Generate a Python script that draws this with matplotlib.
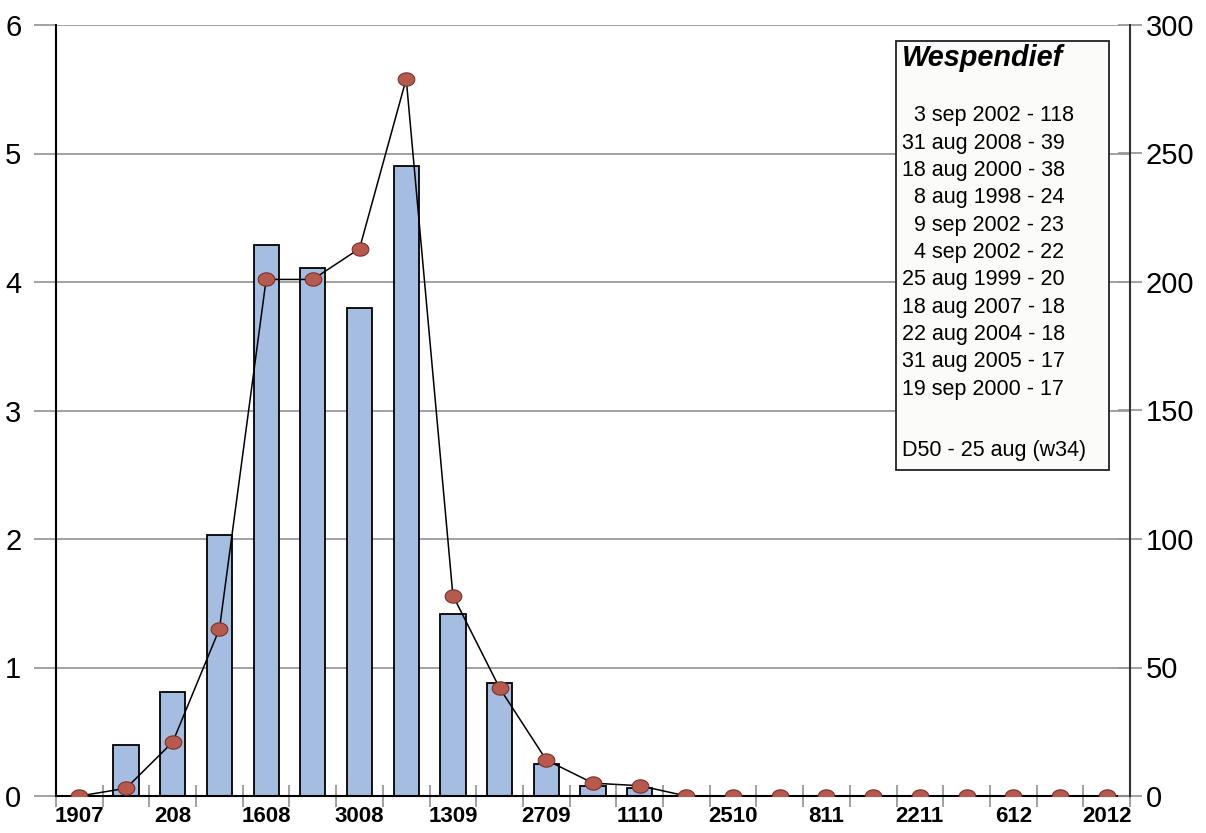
import numpy as np
import matplotlib
matplotlib.use("Agg")
import matplotlib.pyplot as plt
from matplotlib.patches import Rectangle
from matplotlib.path import Path

plt.rcParams['font.family'] = ['Liberation Sans', 'DejaVu Sans']

weeks = ["1907", "2607", "208", "908", "1608", "2308", "3008", "609", "1309", "2009",
         "2709", "410", "1110", "1810", "2510", "111", "811", "1511", "2211", "2911",
         "612", "1312", "2012"]
bar_values = [0.0, 0.40, 0.81, 2.03, 4.29, 4.11, 3.80, 4.90, 1.42, 0.88,
              0.25, 0.08, 0.06, 0.0, 0.0, 0.0, 0.0, 0.0, 0.0, 0.0,
              0.0, 0.0, 0.0]
line_values = [0, 3, 21, 65, 201, 201, 213, 279, 78, 42,
               14, 5, 4, 0, 0, 0, 0, 0, 0, 0,
               0, 0, 0]
left_ticks = [0, 1, 2, 3, 4, 5, 6]
right_ticks = [0, 50, 100, 150, 200, 250, 300]

legend_title = "Wespendief"
legend_lines = ["  3 sep 2002 - 118", "31 aug 2008 - 39", "18 aug 2000 - 38",
                "  8 aug 1998 - 24", "  9 sep 2002 - 23", "  4 sep 2002 - 22",
                "25 aug 1999 - 20", "18 aug 2007 - 18", "22 aug 2004 - 18",
                "31 aug 2005 - 17", "19 sep 2000 - 17"]
legend_footer = "D50 - 25 aug (w34)"

W, H = 1206, 833
fig = plt.figure(figsize=(W / 100, H / 100), dpi=100)
fig.patch.set_facecolor('white')

ax = fig.add_axes([56 / W, 1 - 796 / H, (1130 - 56) / W, (796 - 25) / H])
x = np.arange(len(weeks))

ax.bar(x, bar_values, width=0.54, color='#a6bde2', edgecolor='black', linewidth=1.3, zorder=2)
ax.set_xlim(-0.5, len(weeks) - 0.5)
ax.set_ylim(0, 6)
ax.set_yticks(left_ticks)
ax.set_axisbelow(True)
ax.yaxis.grid(True, color='#9a9a9a', linewidth=1.3)
ax.tick_params(axis='y', direction='out', length=16, width=1.3, color='#9a9a9a',
               labelsize=21, pad=9)

ax.set_xticks(np.arange(-0.5, len(weeks), 1))
ax.set_xticklabels([])
ax.tick_params(axis='x', which='major', direction='inout', length=16, width=1.3, color='#9a9a9a')
ax.set_xticks(x[::2], minor=True)
ax.set_xticklabels(weeks[::2], minor=True, fontweight='bold', fontsize=16)
ax.tick_params(axis='x', which='minor', length=0, pad=7)

ax.spines['top'].set_visible(False)
ax.spines['left'].set_linewidth(1.5)
ax.spines['bottom'].set_linewidth(1.5)
ax.spines['right'].set_visible(False)

ax2 = ax.twinx()
ax2.set_ylim(0, 300)
ax2.set_yticks(right_ticks)
ax2.tick_params(axis='y', direction='inout', length=17, width=1.3, color='#9a9a9a',
                labelsize=21, pad=3)
ax2.spines['top'].set_visible(False)
ax2.spines['left'].set_visible(False)
ax2.spines['bottom'].set_visible(False)
ax2.spines['right'].set_linewidth(1.5)
ax2.spines['right'].set_color('#333333')

t = np.linspace(0, 2 * np.pi, 40)
ellipse = Path(np.column_stack([np.cos(t), 0.8 * np.sin(t)]), closed=True)
ax2.plot(x, line_values, color='black', linewidth=1.1, marker=ellipse, markersize=12,
         markerfacecolor='#b65a4e', markeredgecolor='#7a3028', markeredgewidth=0.8, zorder=3)

# legend text box
bx0, bx1, by0, by1 = 896, 1109, 41, 470
ax2.add_patch(Rectangle((bx0 / W, 1 - by1 / H), (bx1 - bx0) / W, (by1 - by0) / H,
                        transform=fig.transFigure, facecolor='#fbfbf9', edgecolor='#222222',
                        linewidth=1.3, zorder=10, clip_on=False))
fig.text(902 / W, 1 - 58 / H, legend_title, fontsize=20.8, fontweight='bold', fontstyle='italic',
         va='center', ha='left', zorder=11)
for i, line in enumerate(legend_lines):
    fig.text(902 / W, 1 - (116 + 27.3 * i) / H, line, fontsize=15.5, va='center', ha='left', zorder=11)
fig.text(902 / W, 1 - 451 / H, legend_footer, fontsize=15.5, va='center', ha='left', zorder=11)

fig.savefig('out.png', dpi=100)
